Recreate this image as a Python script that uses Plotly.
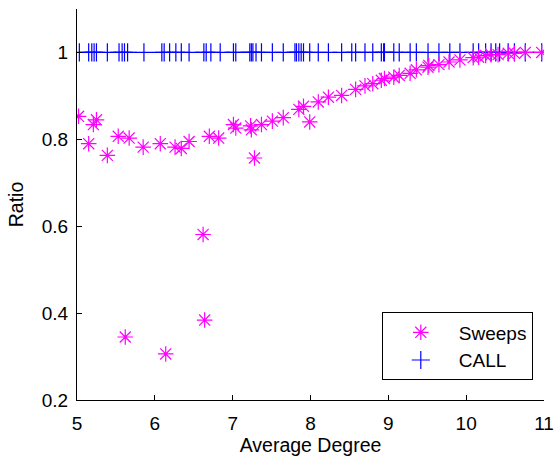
import plotly.graph_objects as go

# Sweeps data (average degree, ratio)
sweeps_x = [5.02, 5.15, 5.21, 5.25, 5.39, 5.53, 5.62, 5.67, 5.85, 6.07, 6.14, 6.26,
            6.34, 6.44, 6.62, 6.64, 6.70, 6.82, 7.01, 7.04, 7.23, 7.24, 7.28, 7.37,
            7.51, 7.65, 7.85, 7.91, 7.99, 8.10, 8.23, 8.40, 8.58, 8.70, 8.80, 8.91,
            8.95, 9.07, 9.14, 9.28, 9.36, 9.51, 9.52, 9.65, 9.78, 9.92, 10.09, 10.16,
            10.25, 10.32, 10.41, 10.54, 10.62, 10.76, 10.97]
sweeps_y = [0.853, 0.790, 0.834, 0.845, 0.763, 0.807, 0.345, 0.803, 0.782, 0.790, 0.306, 0.782,
            0.779, 0.795, 0.581, 0.384, 0.807, 0.803, 0.834, 0.826, 0.831, 0.822, 0.757, 0.834,
            0.842, 0.850, 0.869, 0.876, 0.840, 0.886, 0.897, 0.901, 0.915, 0.923, 0.928, 0.936,
            0.940, 0.943, 0.947, 0.952, 0.960, 0.966, 0.970, 0.972, 0.978, 0.983, 0.988, 0.989,
            0.993, 0.995, 0.995, 0.998, 0.998, 1.0, 1.0]

# CALL data
call_x = [5.03, 5.15, 5.19, 5.22, 5.25, 5.39, 5.54, 5.58, 5.61, 5.65, 5.86, 6.09, 6.12,
          6.19, 6.27, 6.34, 6.44, 6.63, 6.66, 6.72, 6.84, 7.01, 7.04, 7.22, 7.24, 7.26,
          7.30, 7.37, 7.51, 7.65, 7.80, 7.82, 7.85, 7.88, 7.91, 7.99, 8.10, 8.23, 8.40,
          8.53, 8.58, 8.70, 8.80, 8.91, 8.94, 8.95, 9.07, 9.14, 9.28, 9.36, 9.51, 9.65,
          9.79, 9.92, 10.09, 10.16, 10.25, 10.32, 10.38, 10.43, 10.54, 10.62, 10.76, 10.97]
call_y = [1.0] * len(call_x)

x_ticks = [5, 6, 7, 8, 9, 10, 11]
y_ticks = [0.2, 0.4, 0.6, 0.8, 1.0]
y_tick_labels = ["0.2", "0.4", "0.6", "0.8", "1"]

FONT = "Liberation Sans, Arial, sans-serif"

fig = go.Figure()
fig.add_trace(go.Scatter(
    x=call_x, y=call_y, mode="markers", name="CALL", legendrank=2,
    marker=dict(symbol="cross-thin-open", size=13, color="#0000FF",
                line=dict(color="#0000FF", width=1.2)),
))
fig.add_trace(go.Scatter(
    x=sweeps_x, y=sweeps_y, mode="markers", name="Sweeps", legendrank=1,
    marker=dict(symbol="asterisk-open", size=13, color="#FF00FF",
                line=dict(color="#FF00FF", width=1.2)),
))

axis_common = dict(
    showgrid=False, zeroline=False, showline=True, linecolor="black", linewidth=1,
    ticks="inside", ticklen=5, tickcolor="black", mirror=False, automargin=False,
    tickfont=dict(family=FONT, size=19, color="black"),
)

fig.update_layout(
    width=554, height=458,
    margin=dict(l=77, r=10, t=9, b=58),
    paper_bgcolor="white", plot_bgcolor="white",
    font=dict(family=FONT, size=19, color="black"),
    xaxis=dict(range=[5, 11], tickvals=x_ticks, ticklabelstandoff=6,
               title=dict(text="Average Degree", font=dict(family=FONT, size=19.5), standoff=5),
               **axis_common),
    yaxis=dict(range=[0.2, 1.1], tickvals=y_ticks, ticktext=y_tick_labels, ticklabelstandoff=4,
               title=dict(text="Ratio", font=dict(family=FONT, size=19.5), standoff=12),
               **axis_common),
    legend=dict(
        x=0.976, y=0.05, xanchor="right", yanchor="bottom",
        bordercolor="black", borderwidth=1, bgcolor="white",
        font=dict(family=FONT, size=19),
        itemwidth=66, tracegroupgap=0,
    ),
)

fig.write_html("out.html")
